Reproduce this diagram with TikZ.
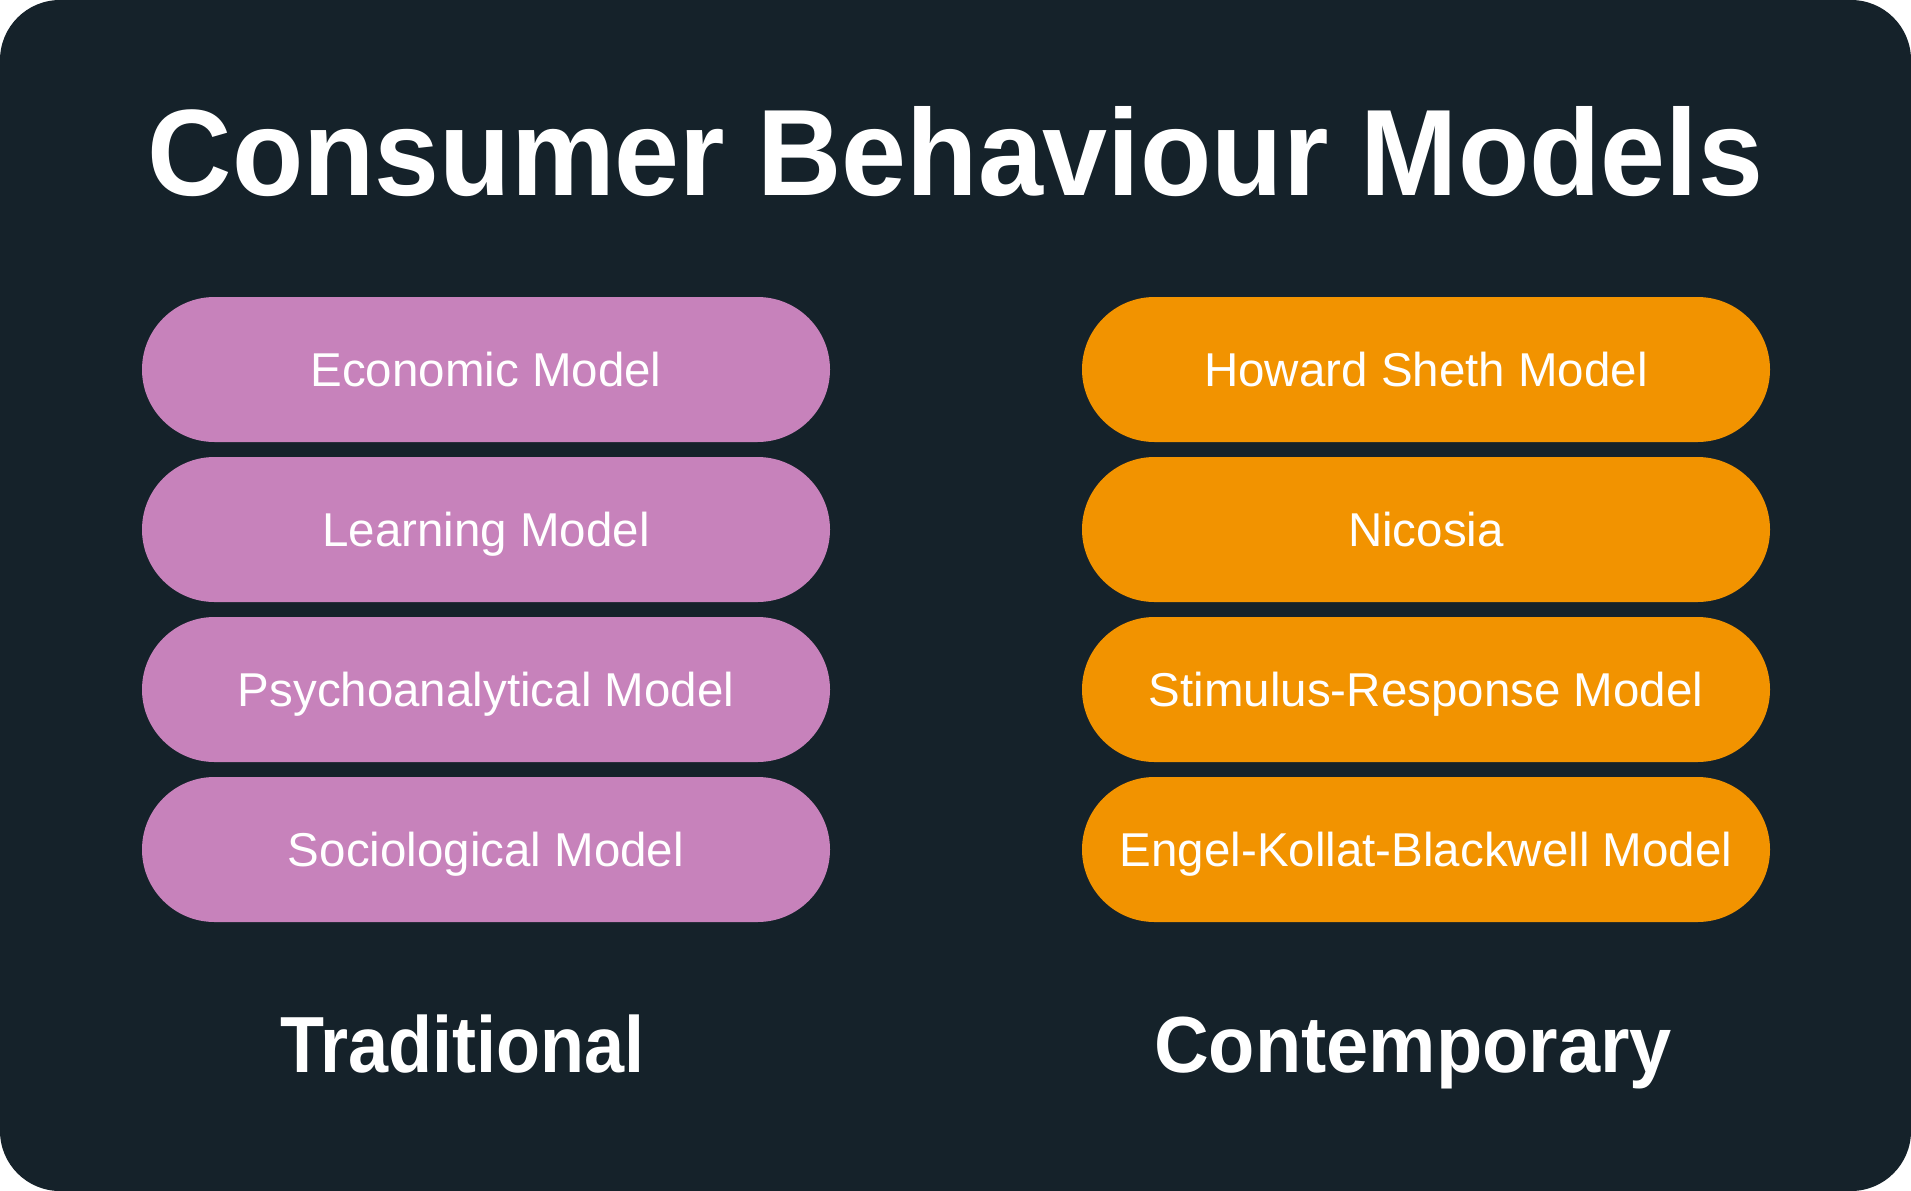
\documentclass[tikz,border=0pt]{standalone}
\usepackage{fontspec}
\setmainfont{Liberation Sans}
\definecolor{bgdark}{HTML}{15222A}
\definecolor{pinkfill}{HTML}{C782BB}
\definecolor{orangefill}{HTML}{F29300}
\tikzset{
  pill/.style={rounded corners=72.5pt, inner sep=0pt},
  pilltext/.style={text=white, anchor=base, inner sep=0pt, font=\fontsize{47.5}{57}\selectfont},
  headtext/.style={text=white, anchor=base, inner sep=0pt, font=\bfseries\fontsize{79.6}{90}\selectfont},
  titletext/.style={text=white, anchor=base, inner sep=0pt, font=\bfseries\fontsize{122.9}{140}\selectfont},
}
\begin{document}
\begin{tikzpicture}[x=1pt,y=-1pt]
\useasboundingbox (0,0) rectangle (1911,1191);
\fill[white] (0,0) rectangle (1911,1191);
\fill[bgdark, rounded corners=60pt] (0,0) rectangle (1911,1191);
\node[titletext] (title) at (955.5,195) {\scalebox{0.95}[1]{Consumer Behaviour Models}};
% left column
\foreach \i/\t [count=\n] in {0/Economic Model,1/Learning Model,2/Psychoanalytical Model,3/Sociological Model}{
  \fill[pinkfill, pill] (142,297+160*\i) rectangle (830,442+160*\i);
  \node[pilltext] (L\n) at (486,386.5+160*\i) {\t};
}
\foreach \i/\t [count=\n] in {0/Howard Sheth Model,1/Nicosia,2/Stimulus-Response Model,3/Engel-Kollat-Blackwell Model}{
  \fill[orangefill, pill] (1082,297+160*\i) rectangle (1770,442+160*\i);
  \node[pilltext] (R\n) at (1426,386.5+160*\i) {\t};
}
\node[headtext] (trad) at (462.5,1072) {\scalebox{0.905}[1]{Traditional}};
\node[headtext] (cont) at (1413,1072) {\scalebox{0.952}[1]{Contemporary}};
\end{tikzpicture}
\end{document}
